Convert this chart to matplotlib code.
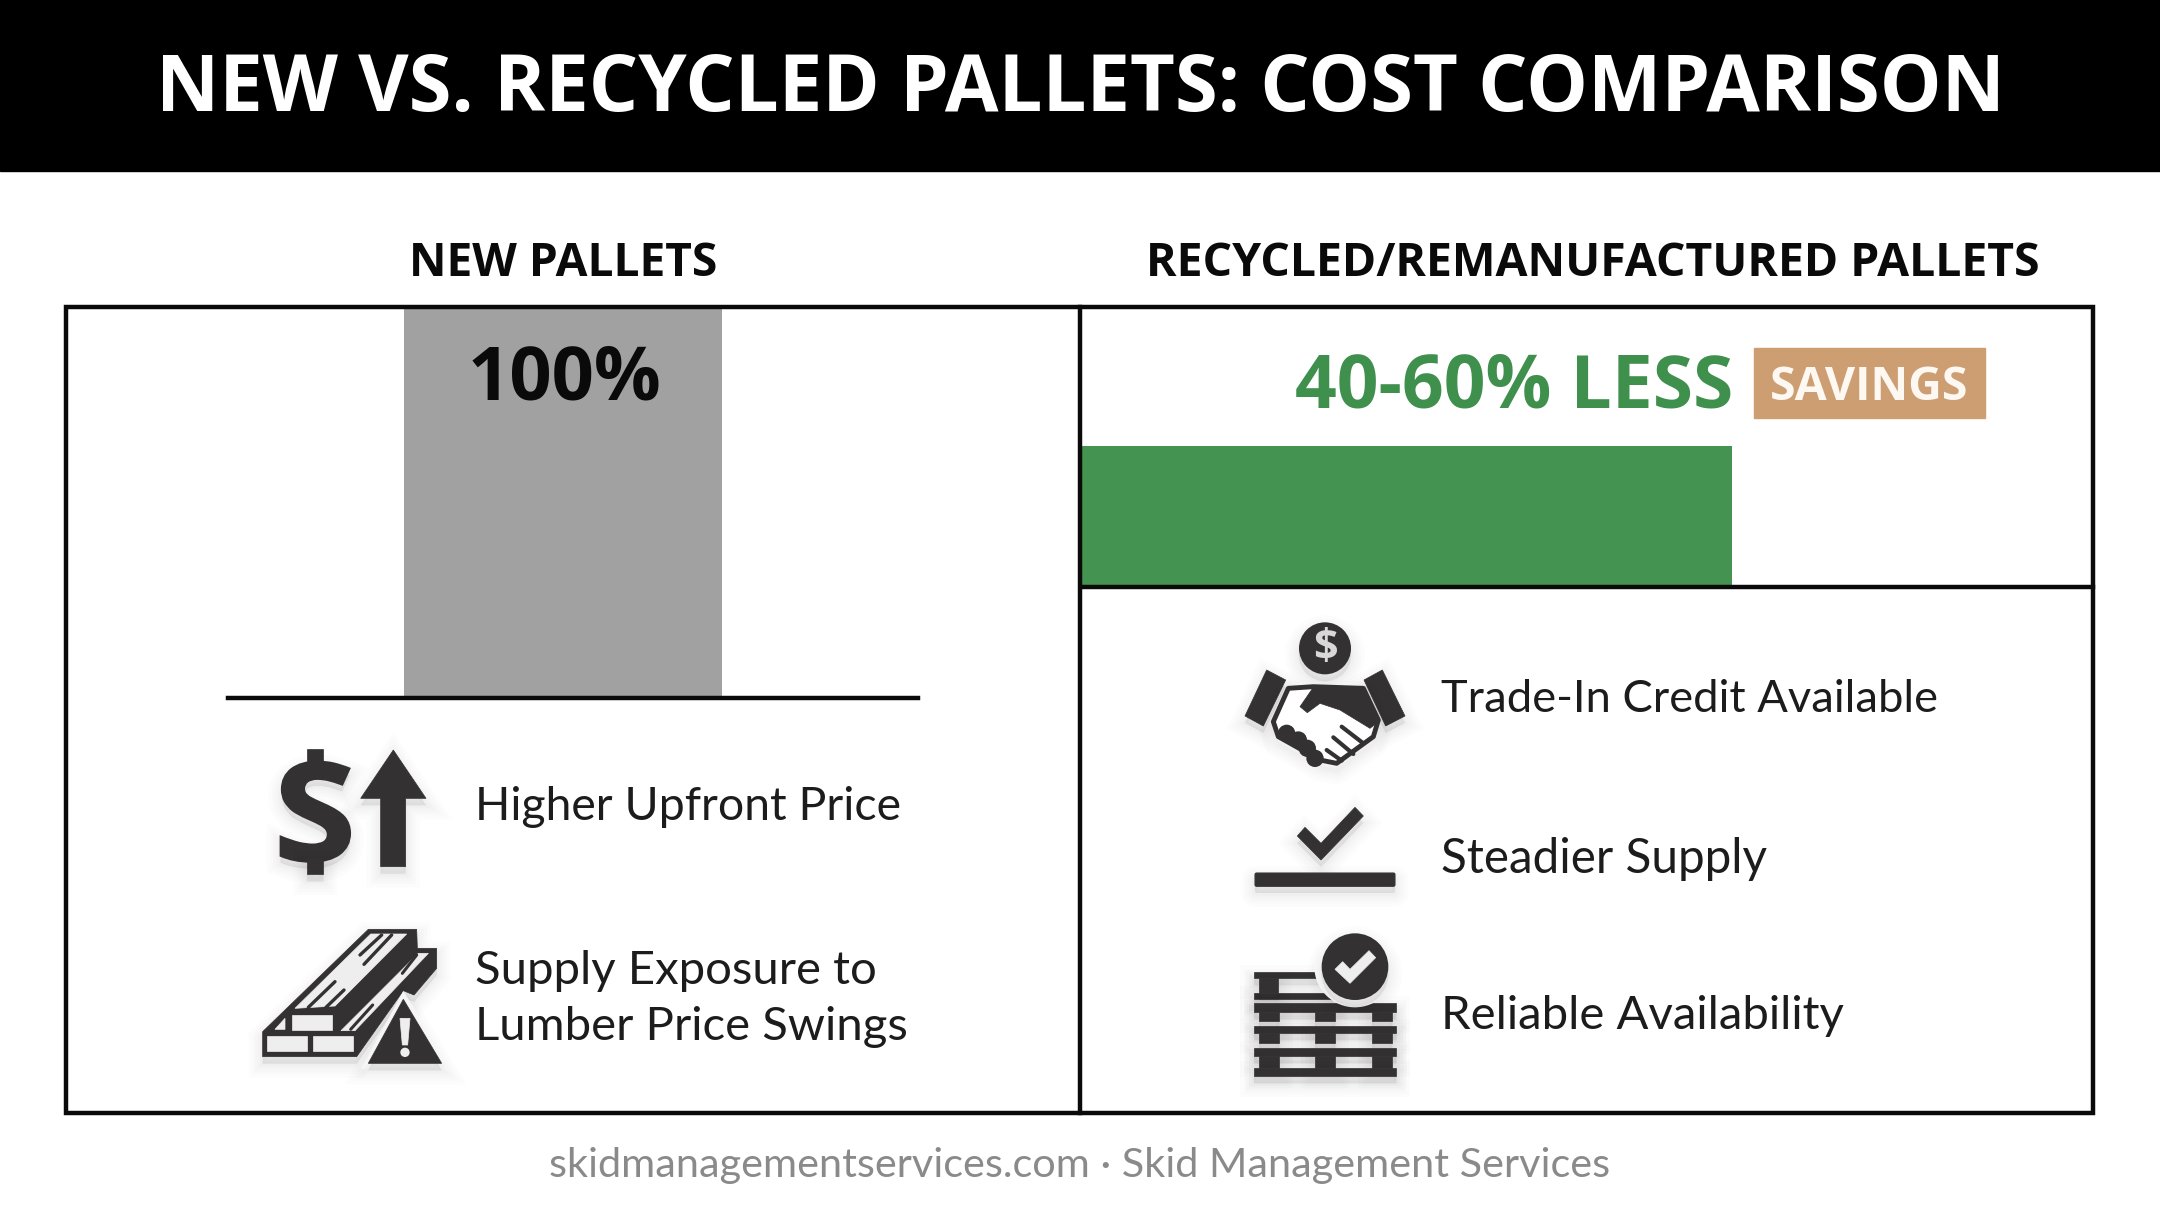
import matplotlib
matplotlib.use("Agg")
import matplotlib.pyplot as plt
import matplotlib.patheffects as pe
from matplotlib.font_manager import FontProperties
from matplotlib.patches import Polygon, Circle, Rectangle, FancyBboxPatch, PathPatch
from matplotlib.path import Path
from matplotlib.textpath import TextPath
from matplotlib.transforms import Affine2D

W, H = 2160, 1206

title = "NEW VS. RECYCLED PALLETS: COST COMPARISON"
categories = ["NEW PALLETS", "RECYCLED/REMANUFACTURED PALLETS"]
new_value = [100]
recycled_value = [60]
new_label = "100%"
recycled_label = "40-60% LESS"
badge = "SAVINGS"
new_points = ["Higher Upfront Price", "Supply Exposure to\nLumber Price Swings"]
recycled_points = ["Trade-In Credit Available", "Steadier Supply", "Reliable Availability"]
footer = "skidmanagementservices.com · Skid Management Services"

DARK = "#333132"
LIGHT = "#eeeeee"
BODY = ["Lato", "DejaVu Sans"]

plt.rcParams["font.family"] = ["Open Sans", "DejaVu Sans"]
fig = plt.figure(figsize=(W / 100, H / 100), dpi=100, facecolor="white")


def px_axes(x0, y0, x1, y1):
    return fig.add_axes([x0 / W, 1 - y1 / H, (x1 - x0) / W, (y1 - y0) / H])


# bars get their own axes so the scales do the work
ax_new = px_axes(228, 308, 918, 697)
ax_new.bar([0], new_value, width=0.461, color="#a1a1a1")
ax_new.set_xlim(-0.4855, 0.5145)
ax_new.set_ylim(0, 100)
ax_new.axis("off")

ax_rec = px_axes(1082, 446, 2093, 586)
ax_rec.barh([0], recycled_value, height=1, color="#459350")
ax_rec.set_xlim(0, 93.3)
ax_rec.set_ylim(-0.5, 0.5)
ax_rec.axis("off")

ax = fig.add_axes([0, 0, 1, 1], zorder=5)
ax.set_xlim(0, W)
ax.set_ylim(H, 0)
ax.axis("off")
ax.patch.set_alpha(0)

# header and frame
ax.add_patch(Rectangle((0, 0), W, 171, color="black"))
ax.text(1080, 91, title, color="white", fontsize=56, fontweight="bold", ha="center", va="center")
ax.text(563, 264, categories[0], fontsize=33.2, fontweight="bold", ha="center", va="center", color="#0a0a0a")
ax.text(1593, 264, categories[1], fontsize=33.4, fontweight="bold", ha="center", va="center", color="#0a0a0a")

ax.add_patch(Rectangle((66, 307), 2027, 806, fill=False, ec="#0a0a0a", lw=3.2))
ax.plot([1080, 1080], [307, 1113], color="#0a0a0a", lw=3.2)
ax.plot([1081, 2093], [587, 587], color="#0a0a0a", lw=3.2)
ax.plot([228, 918], [698, 698], color="#0a0a0a", lw=3.2)

# bar labels
ax.text(564, 380, new_label, fontsize=53.5, fontweight="bold", ha="center", va="center", color="#0a0a0a")
ax.text(1733, 388, recycled_label, fontsize=52.7, fontweight="bold", ha="right", va="center", color="#3f8f4d")
ax.add_patch(Rectangle((1754, 348), 231, 70, color="#cd9e72"))
ax.text(1869, 388, badge, fontsize=33.5, fontweight="bold", ha="center", va="center", color="#fdf8f2")

# side texts
ax.text(475, 807, new_points[0], fontsize=33.4, family=BODY, ha="left", va="center", color="#1c1c1c")
ax.text(475, 999, new_points[1], fontsize=34, family=BODY, ha="left", va="center", color="#1c1c1c", linespacing=1.4)
for txt, y, size in zip(recycled_points, [700, 859, 1016], [32.6, 34.3, 34]):
    ax.text(1441, y, txt, fontsize=size, family=BODY, ha="left", va="center", color="#1c1c1c")
ax.text(1080, 1165, footer, fontsize=29.8, family=BODY, ha="center", va="center", color="#8a8a8a")

# soft shadow under the icons
shadow = [pe.Stroke(linewidth=w, foreground="black", alpha=0.012, offset=(0, -5)) for w in (20, 15, 11, 7, 4, 1)]
shadow.append(pe.Normal())


class Icon:
    # icon drawn in the coordinates of a 3x crop
    def __init__(self, x0, y0):
        self.x0, self.y0 = x0, y0

    def p(self, x, y):
        return self.x0 + x / 3, self.y0 + y / 3

    def poly(self, pts, color=DARK, z=6, fx=True, **kw):
        patch = Polygon([self.p(*q) for q in pts], closed=True, fc=color, ec=color, lw=0.5, zorder=z, **kw)
        if fx:
            patch.set_path_effects(shadow)
        ax.add_patch(patch)

    def rect(self, x0, y0, x1, y1, color=DARK, z=6, fx=True):
        self.poly([(x0, y0), (x1, y0), (x1, y1), (x0, y1)], color, z, fx)

    def line(self, a, b, color=DARK, lw=2.6, z=7):
        ax.plot(*zip(self.p(*a), self.p(*b)), color=color, lw=lw, zorder=z, solid_capstyle="round")

    def circle(self, x, y, r, color=DARK, z=6, fx=True):
        patch = Circle(self.p(x, y), r / 3, fc=color, ec="none", zorder=z)
        if fx:
            patch.set_path_effects(shadow)
        ax.add_patch(patch)

    def glyph(self, ch, x0, y0, x1, y1, color=DARK, z=6):
        # letter outline stretched into a box, y flipped because the axis runs downwards
        tp = TextPath((0, 0), ch, size=100, prop=FontProperties(family="Open Sans", weight="bold"))
        box = tp.get_extents()
        (px0, py0), (px1, py1) = self.p(x0, y0), self.p(x1, y1)
        tr = (Affine2D().translate(-box.x0, -box.y0).scale((px1 - px0) / box.width, -(py1 - py0) / box.height)
              .translate(px0, py1))
        ax.add_patch(PathPatch(Path(tr.transform(tp.vertices), tp.codes), fc=color, ec=color, lw=1.5, zorder=z,
                               path_effects=shadow))


a = Icon(240, 720)
a.glyph("S", 122, 125, 330, 425)
a.rect(200, 88, 248, 135, fx=False)
a.rect(200, 415, 248, 462)
a.poly([(460, 90), (558, 235), (497, 235), (497, 440), (422, 440), (422, 235), (362, 235)])

# lumber
a.poly([(385, 628), (530, 628), (532, 685), (590, 685), (590, 745), (522, 825), (490, 812), (350, 1010),
        (68, 1010), (68, 935)])
a.poly([(392, 642), (500, 642), (285, 858), (165, 865)], LIGHT, 7, False)
for s, e in [((360, 705), (425, 645)), ((372, 733), (455, 645)), ((205, 862), (285, 785)), ((258, 862), (312, 810))]:
    a.line(s, e, lw=2.4)
a.rect(155, 885, 275, 930, LIGHT, 7, False)
a.rect(82, 948, 202, 992, LIGHT, 7, False)
a.rect(220, 948, 340, 992, LIGHT, 7, False)
a.poly([(105, 928), (135, 895), (135, 928)], LIGHT, 7, False)
a.poly([(303, 932), (345, 932), (565, 700), (535, 700)], LIGHT, 7, False)
a.line((332, 928), (398, 855), lw=2.2)
a.line((487, 760), (530, 705), lw=2.2)
a.poly([(490, 815), (630, 1045), (365, 1045)], "white", 8, False)
a.poly([(490, 838), (605, 1030), (385, 1030)], DARK, 9)
a.poly([(480, 895), (510, 895), (503, 975), (487, 975)], LIGHT, 10, False)
a.circle(495, 997, 14, LIGHT, 10, False)

b = Icon(1220, 600)
# handshake
b.circle(315, 145, 78)
ax.text(*b.p(315, 146), "$", fontsize=31, fontweight="bold", ha="center", va="center", color="#d8d8d8", zorder=8)
b.poly([(140, 210), (197, 240), (130, 378), (75, 348)])
b.poly([(487, 210), (432, 240), (497, 378), (555, 348)])
hand = Polygon([b.p(*q) for q in [(205, 265), (280, 260), (430, 265), (475, 360), (460, 410), (350, 490), (300, 480),
                                  (175, 410), (160, 365)]], closed=True, fc="white", ec=DARK, lw=3.5, zorder=6,
               joinstyle="round", path_effects=shadow)
ax.add_patch(hand)
b.poly([(280, 262), (430, 265), (475, 365), (450, 385), (360, 330), (300, 310), (262, 338), (240, 320)], z=7, fx=False)
for s, e in [((365, 380), (430, 430)), ((340, 412), (400, 462)), ((320, 450), (365, 482))]:
    b.line(s, e, lw=3)
for x, y in [(200, 400), (235, 420), (262, 445), (285, 475)]:
    b.circle(x, y, 26, z=7, fx=False)

# check over a line
b.poly([(255, 682), (303, 730), (405, 622), (430, 648), (303, 780), (232, 708)])
ax.add_patch(FancyBboxPatch(b.p(110, 824), 410 / 3, 30 / 3, boxstyle="round,pad=1.5", fc=DARK, ec=DARK, zorder=6,
                            path_effects=shadow))

# pallet stack
feet = [(118, 178), (285, 345), (455, 515)]
b.rect(102, 1115, 300, 1135)
b.rect(102, 1178, 340, 1197)
b.rect(118, 1135, 175, 1178)
for top, bottom in [(1210, 1235), (1277, 1300), (1345, 1368)]:
    b.rect(102, top, 528, bottom)
    for x0, x1 in feet:
        b.rect(x0, bottom, x1, bottom + (37 if top == 1345 else 28))
b.rect(102, 1405, 528, 1428)
b.circle(405, 1100, 122, "white", 8, False)
b.circle(405, 1100, 100, DARK, 9)
b.poly([(345, 1108), (368, 1085), (390, 1108), (447, 1052), (467, 1073), (390, 1150)], LIGHT, 10, False)

fig.savefig("out.png", dpi=100)
